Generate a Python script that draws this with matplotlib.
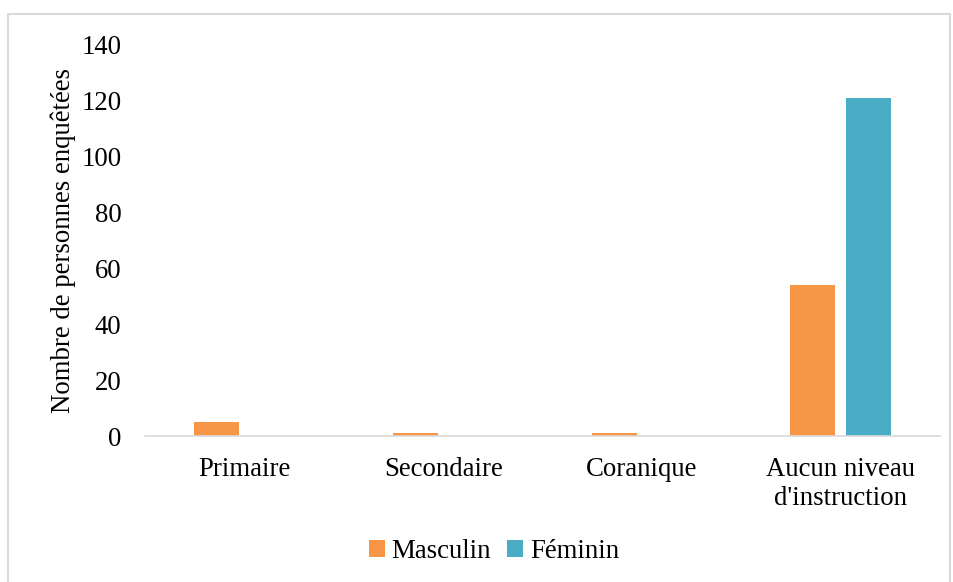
import matplotlib.pyplot as plt
import numpy as np
from matplotlib.patches import Rectangle

# niveaux d'instruction
categories = ["Primaire", "Secondaire", "Coranique", "Aucun niveau\nd'instruction"]
masculin = [5, 1, 1, 54]
feminin = [0, 0, 0, 121]

plt.rcParams['font.family'] = ['Liberation Serif', 'DejaVu Serif']
fs = 19.3

fig = plt.figure(figsize=(9.54, 5.82), dpi=100)
ax = fig.add_axes([145/954, 1-436/582, 795/954, 391/582])

# cadre gris autour du graphique
fig.patches.append(Rectangle((8/954, -0.05), 942/954, 1.05-14/582, transform=fig.transFigure,
                             fill=False, edgecolor='#d9d9d9', linewidth=1.5))

x = np.arange(len(categories))
w = 0.226
ax.bar(x - 0.14, masculin, w, color='#F79646', label='Masculin')
ax.bar(x + 0.14, feminin, w, color='#4BACC6', label='Féminin')

ax.set_xlim(-0.5, 3.5)
ax.set_ylim(0, 140)
ax.set_yticks(range(0, 141, 20))
ax.set_xticks(x)
ax.set_xticklabels(categories, fontsize=fs, linespacing=1.2)
ax.tick_params(axis='y', labelsize=fs, length=0, pad=17)
ax.tick_params(axis='x', length=0, pad=15)
for s in ['top', 'right', 'left']:
    ax.spines[s].set_visible(False)
ax.spines['bottom'].set_color('#d9d9d9')
ax.spines['bottom'].set_linewidth(1.2)
ax.set_ylabel('Nombre de personnes enquêtées', fontsize=fs, labelpad=4)

fig.legend(*ax.get_legend_handles_labels(), loc='center', bbox_to_anchor=(494/954, 1-551/582),
           ncol=2, frameon=False, fontsize=fs, handlelength=0.6, handleheight=0.6,
           handletextpad=0.25, columnspacing=0.6, borderpad=0)

plt.savefig("out.png", dpi=100)
